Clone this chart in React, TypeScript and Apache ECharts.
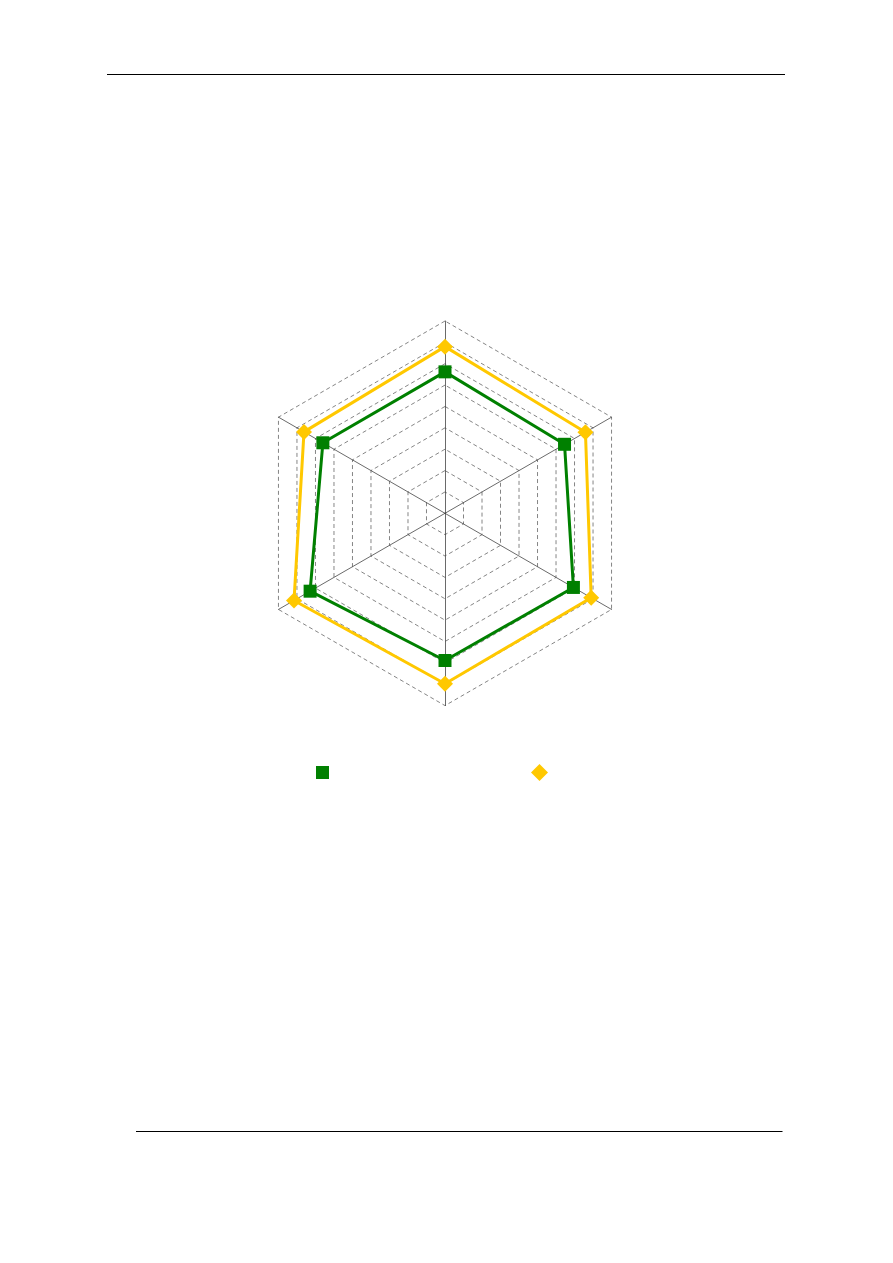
import React, { useEffect, useRef } from 'react';
import * as echarts from 'echarts';

// six spokes, first one at the top, going counter-clockwise
const indicatorNames = ['A', 'B', 'C', 'D', 'E', 'F'];
const maxValue = 9;
const greenSeries = [6.62, 6.6, 7.29, 6.89, 6.94, 6.46];
const yellowSeries = [7.8, 7.62, 8.16, 7.98, 7.9, 7.59];
const seriesNames = ['Series 1', 'Series 2'];

const GREEN = '#008000';
const YELLOW = '#FFC800';

const App: React.FC = () => {
  const chartRef = useRef<HTMLDivElement | null>(null);

  useEffect(() => {
    document.body.style.margin = '0';
    if (!chartRef.current) return;
    const chart = echarts.init(chartRef.current, null, { renderer: 'svg' });

    const option: echarts.EChartsOption = {
      animation: false,
      backgroundColor: '#fff',
      legend: [
        {
          data: [seriesNames[0]],
          left: 311,
          top: 761,
          icon: 'rect',
          itemWidth: 13,
          itemHeight: 13,
          formatter: () => '',
          selectedMode: false,
        },
        {
          data: [seriesNames[1]],
          left: 526,
          top: 759,
          icon: 'diamond',
          itemWidth: 17,
          itemHeight: 17,
          formatter: () => '',
          selectedMode: false,
        },
      ],
      radar: {
        center: [445, 513.3],
        radius: 192.3,
        startAngle: 90,
        splitNumber: 9,
        shape: 'polygon',
        indicator: indicatorNames.map((name) => ({ name, min: 0, max: maxValue })),
        axisName: { show: false },
        axisLine: { lineStyle: { color: '#444', width: 0.8 } },
        splitLine: { lineStyle: { color: '#666', width: 0.8, type: [4, 3] } },
        splitArea: { show: false },
      },
      series: [
        {
          type: 'radar',
          name: seriesNames[0],
          symbol: 'rect',
          symbolSize: 13,
          lineStyle: { color: GREEN, width: 3 },
          itemStyle: { color: GREEN },
          data: [{ value: greenSeries, name: seriesNames[0] }],
        },
        {
          type: 'radar',
          name: seriesNames[1],
          symbol: 'diamond',
          symbolSize: 16,
          lineStyle: { color: YELLOW, width: 3 },
          itemStyle: { color: YELLOW },
          data: [{ value: yellowSeries, name: seriesNames[1] }],
        },
      ],
      graphic: [
        { type: 'line', shape: { x1: 107, y1: 74.5, x2: 785, y2: 74.5 }, style: { stroke: '#000', lineWidth: 1 } },
        { type: 'line', shape: { x1: 136, y1: 1131.5, x2: 782.5, y2: 1131.5 }, style: { stroke: '#000', lineWidth: 1 } },
      ],
    };

    chart.setOption(option);
    return () => {
      chart.dispose();
    };
  }, []);

  return <div ref={chartRef} style={{ width: '893px', height: '1263px' }} />;
};

export default App;
